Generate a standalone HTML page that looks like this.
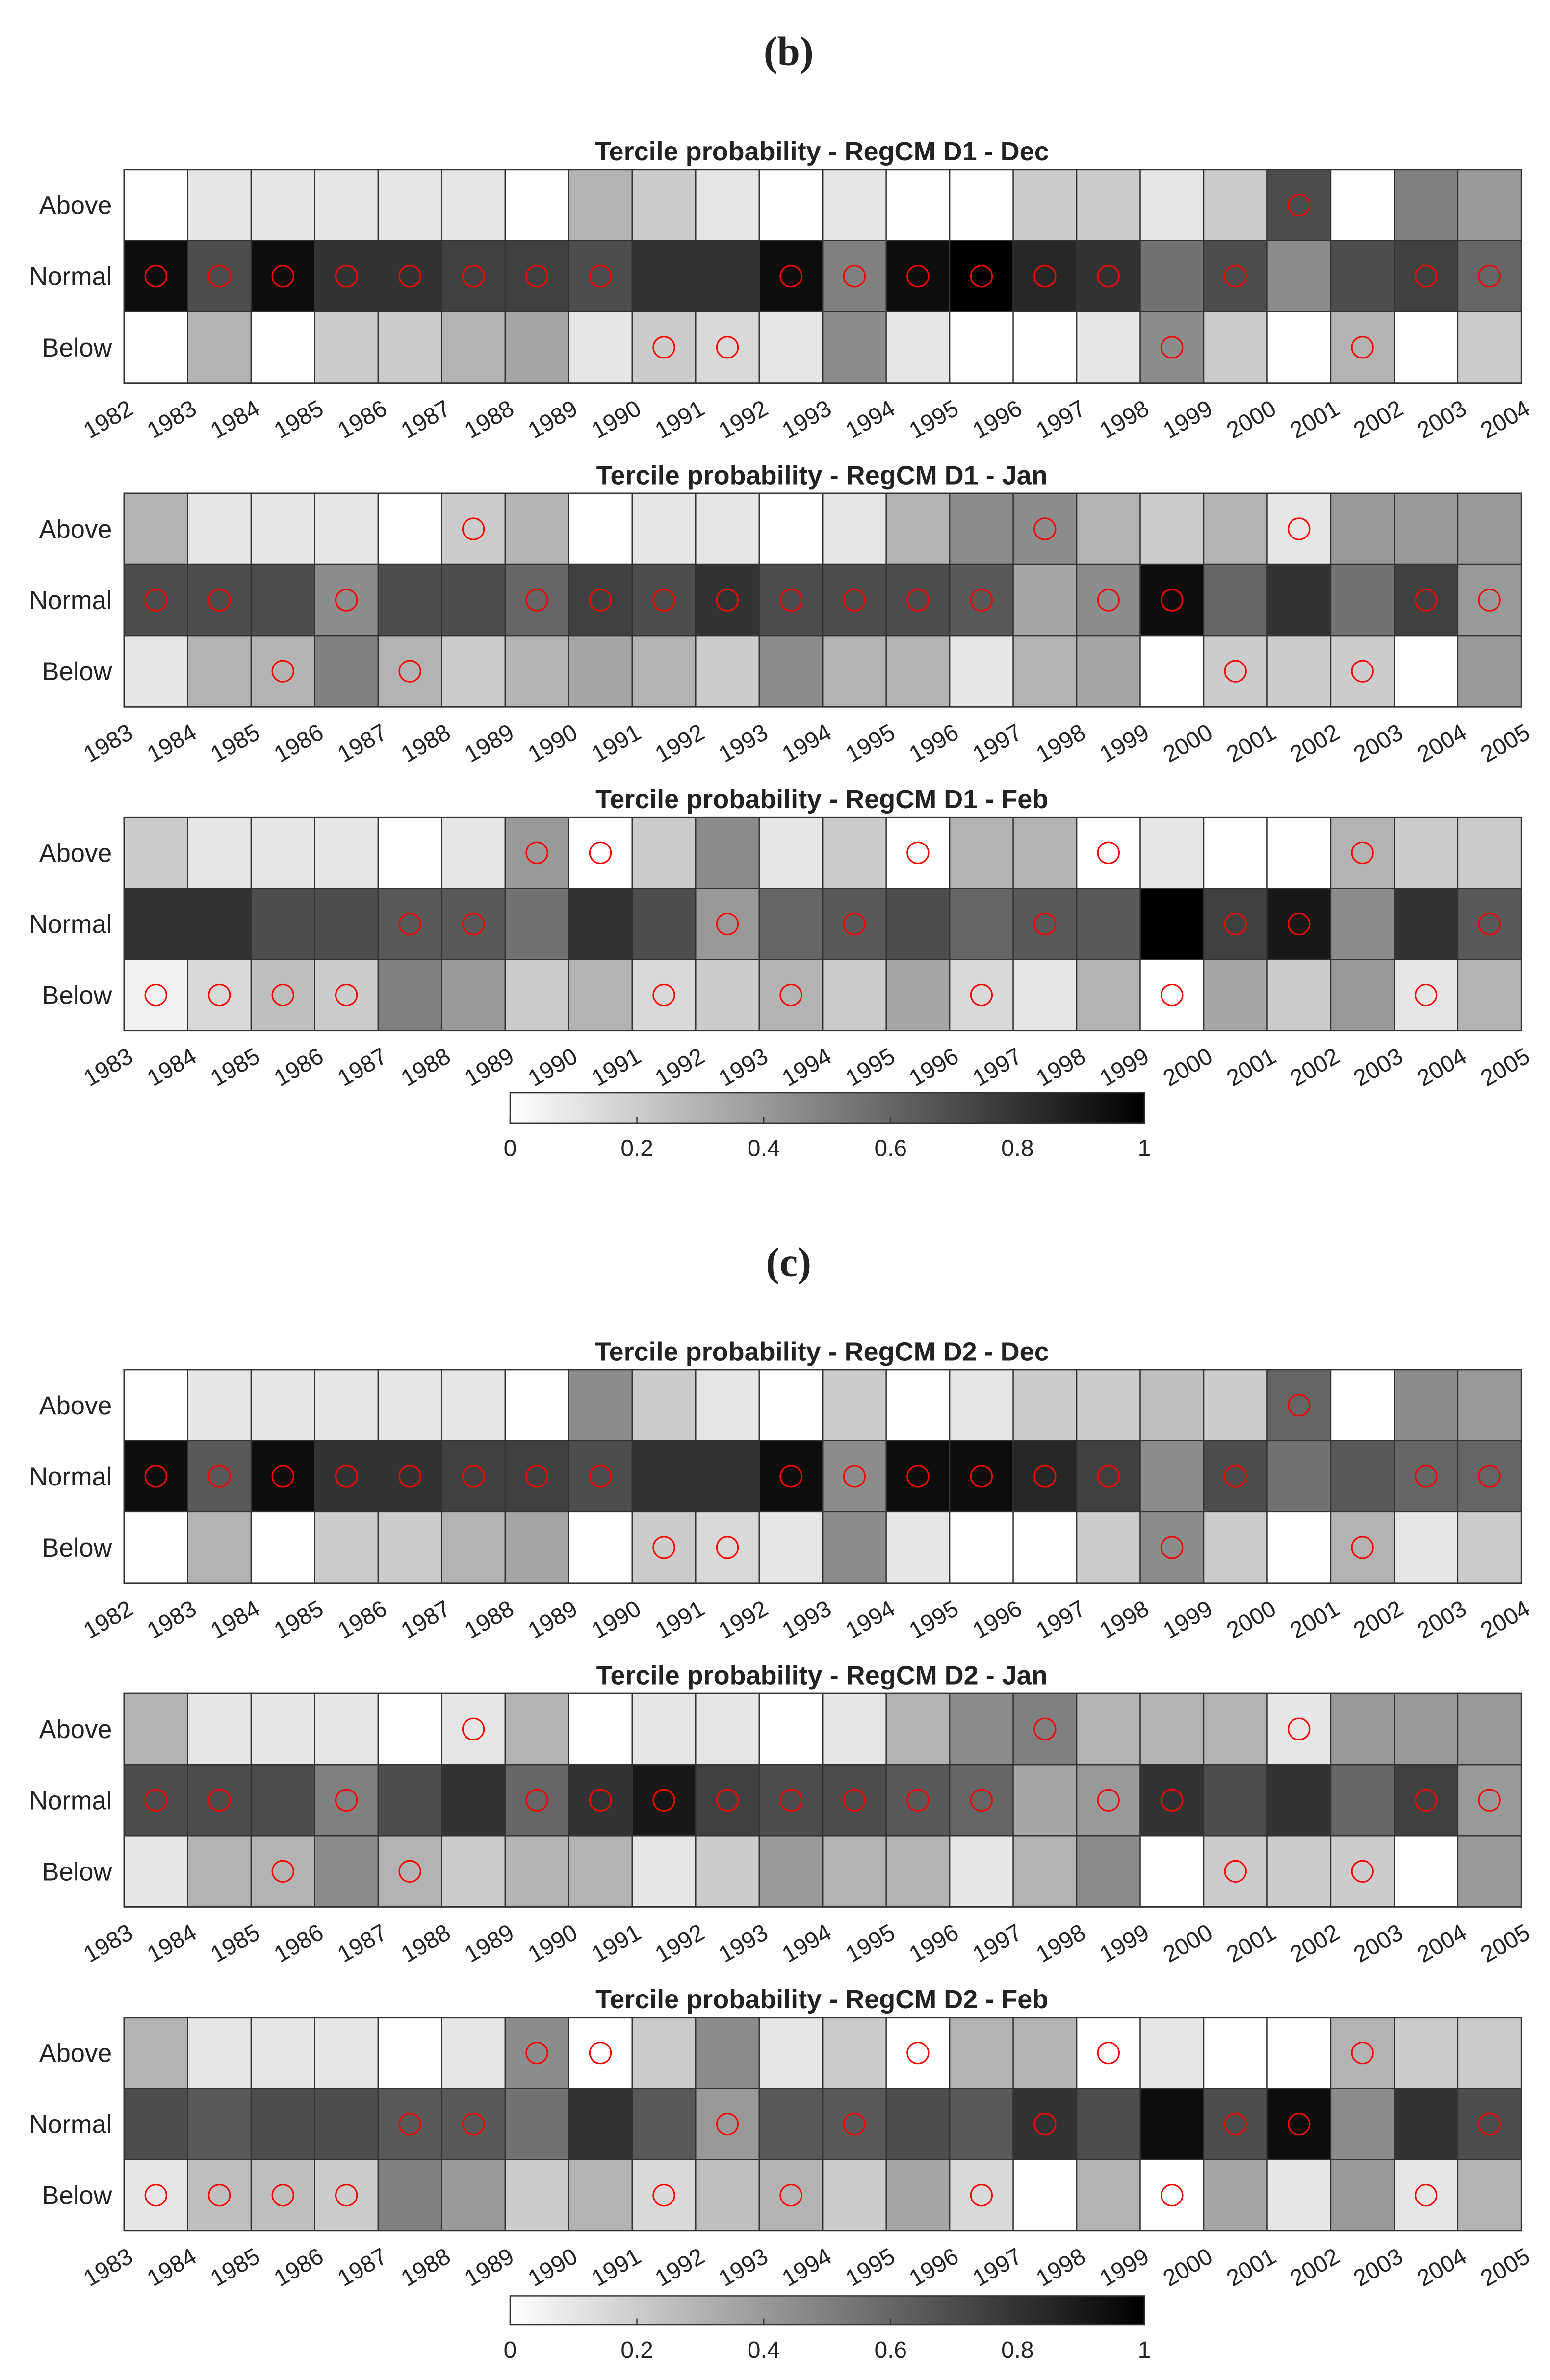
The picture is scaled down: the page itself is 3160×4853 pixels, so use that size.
<!DOCTYPE html>
<html><head><meta charset="utf-8"><style>
html,body{margin:0;padding:0;background:#fff;}
svg{display:block;}
text{font-family:"Liberation Sans","DejaVu Sans",sans-serif;fill:#222;}
</style></head><body>
<svg id="fig" width="3160" height="4853" viewBox="0 0 1024 1572.6" xmlns="http://www.w3.org/2000/svg">
<text x="521" y="43" text-anchor="middle" style="font-family:'Liberation Serif',serif;font-weight:bold;font-size:27px">(b)</text>
<text x="521" y="843" text-anchor="middle" style="font-family:'Liberation Serif',serif;font-weight:bold;font-size:27px">(c)</text>
</svg>
<script>
const rowNames = ["Above","Normal","Below"];
const titles = ["Tercile probability - RegCM D1 - Dec","Tercile probability - RegCM D1 - Jan","Tercile probability - RegCM D1 - Feb","Tercile probability - RegCM D2 - Dec","Tercile probability - RegCM D2 - Jan","Tercile probability - RegCM D2 - Feb"];
const startYears = [1982,1983,1983,1982,1983,1983];
const colorbarTicks = [0,0.2,0.4,0.6,0.8,1];
const colorbarTickLabels = ["0","0.2","0.4","0.6","0.8","1"];

const d1DecAbove=[0,0.1,0.1,0.1,0.1,0.1,0,0.3,0.2,0.1,0,0.1,0,0,0.2,0.2,0.1,0.2,0.7,0,0.5,0.4];
const d1DecNormal=[0.95,0.7,0.95,0.8,0.8,0.75,0.75,0.7,0.8,0.8,0.95,0.5,0.95,1,0.85,0.8,0.55,0.7,0.45,0.7,0.75,0.6];
const d1DecBelow=[0,0.3,0,0.2,0.2,0.3,0.35,0.1,0.2,0.15,0.1,0.45,0.1,0,0,0.1,0.45,0.2,0,0.3,0,0.2];
const d1DecObs=[1,1,1,1,1,1,1,1,2,2,1,1,1,1,1,1,2,1,0,2,1,1];

const d1JanAbove=[0.3,0.1,0.1,0.1,0,0.2,0.3,0,0.1,0.1,0,0.1,0.3,0.45,0.45,0.3,0.2,0.3,0.1,0.4,0.4,0.4];
const d1JanNormal=[0.7,0.7,0.7,0.45,0.7,0.7,0.6,0.75,0.7,0.8,0.7,0.7,0.7,0.65,0.35,0.45,0.95,0.6,0.8,0.55,0.75,0.4];
const d1JanBelow=[0.1,0.3,0.3,0.5,0.3,0.2,0.3,0.35,0.3,0.2,0.45,0.3,0.3,0.1,0.3,0.35,0,0.2,0.2,0.2,0,0.4];
const d1JanObs=[1,1,2,1,2,0,1,1,1,1,1,1,1,1,0,1,1,2,0,2,1,1];

const d1FebAbove=[0.2,0.1,0.1,0.1,0,0.1,0.4,0,0.2,0.45,0.1,0.2,0,0.3,0.3,0,0.1,0,0,0.3,0.2,0.2];
const d1FebNormal=[0.8,0.8,0.7,0.7,0.65,0.65,0.55,0.8,0.7,0.4,0.6,0.65,0.7,0.6,0.65,0.65,1,0.75,0.9,0.45,0.8,0.65];
const d1FebBelow=[0.05,0.15,0.25,0.2,0.5,0.4,0.2,0.3,0.15,0.2,0.3,0.2,0.35,0.15,0.1,0.3,0,0.35,0.2,0.4,0.1,0.3];
const d1FebObs=[2,2,2,2,1,1,0,0,2,1,2,1,0,2,1,0,2,1,1,0,2,1];

const d2DecAbove=[0,0.1,0.1,0.1,0.1,0.1,0,0.45,0.2,0.1,0,0.2,0,0.1,0.2,0.2,0.25,0.2,0.6,0,0.45,0.4];
const d2DecNormal=[0.95,0.65,0.95,0.8,0.8,0.75,0.75,0.7,0.8,0.8,0.95,0.45,0.95,0.95,0.85,0.75,0.45,0.7,0.55,0.65,0.6,0.6];
const d2DecBelow=[0,0.3,0,0.2,0.2,0.3,0.35,0,0.2,0.15,0.1,0.45,0.1,0,0,0.2,0.45,0.2,0,0.3,0.1,0.2];
const d2DecObs=[1,1,1,1,1,1,1,1,2,2,1,1,1,1,1,1,2,1,0,2,1,1];

const d2JanAbove=[0.3,0.1,0.1,0.1,0,0.1,0.3,0,0.1,0.1,0,0.1,0.3,0.45,0.5,0.3,0.3,0.3,0.1,0.4,0.4,0.4];
const d2JanNormal=[0.7,0.7,0.7,0.5,0.7,0.8,0.6,0.8,0.9,0.75,0.7,0.7,0.65,0.6,0.35,0.4,0.8,0.7,0.8,0.6,0.75,0.4];
const d2JanBelow=[0.1,0.3,0.3,0.45,0.3,0.2,0.3,0.3,0.1,0.2,0.4,0.3,0.3,0.1,0.3,0.45,0,0.2,0.2,0.2,0,0.4];
const d2JanObs=[1,1,2,1,2,0,1,1,1,1,1,1,1,1,0,1,1,2,0,2,1,1];

const d2FebAbove=[0.3,0.1,0.1,0.1,0,0.1,0.45,0,0.2,0.45,0.1,0.2,0,0.3,0.3,0,0.1,0,0,0.3,0.2,0.2];
const d2FebNormal=[0.7,0.65,0.7,0.7,0.65,0.65,0.55,0.8,0.65,0.4,0.65,0.65,0.7,0.65,0.8,0.7,0.95,0.7,0.95,0.45,0.8,0.7];
const d2FebBelow=[0.1,0.25,0.25,0.2,0.5,0.4,0.2,0.3,0.15,0.25,0.3,0.2,0.35,0.15,0,0.3,0,0.35,0.1,0.4,0.1,0.3];
const d2FebObs=[2,2,2,2,1,1,0,0,2,1,2,1,0,2,1,0,2,1,1,0,2,1];

const panels=[
 [d1DecAbove,d1DecNormal,d1DecBelow,d1DecObs],
 [d1JanAbove,d1JanNormal,d1JanBelow,d1JanObs],
 [d1FebAbove,d1FebNormal,d1FebBelow,d1FebObs],
 [d2DecAbove,d2DecNormal,d2DecBelow,d2DecObs],
 [d2JanAbove,d2JanNormal,d2JanBelow,d2JanObs],
 [d2FebAbove,d2FebNormal,d2FebBelow,d2FebObs]
];
const NS="http://www.w3.org/2000/svg";
const svg=document.getElementById('fig');
function mk(tag,attrs,parent){const e=document.createElementNS(NS,tag);for(const k in attrs)e.setAttribute(k,attrs[k]);(parent||svg).appendChild(e);return e;}
function gray(v){const g=Math.round(255*(1-Math.max(0,Math.min(1,v))));return `rgb(${g},${g},${g})`;}
const X0=82,X1=1005,RH=47;
const tops=[112,326,540,905,1119,1333];
panels.forEach((p,pi)=>{
  const n=p[0].length, cw=(X1-X0)/n, top=tops[pi];
  const xs=i=>X0+i*cw, ys=r=>top+r*RH;
  const g=mk('g',{});
  
  
  const t=mk('text',{x:543,y:top-6,'text-anchor':'middle','font-size':17.5,'font-weight':'bold'},g);
  t.textContent=titles[pi];
  
  
  for(let r=0;r<3;r++){
    const lbl=mk('text',{x:74,y:ys(r)+RH/2+6,'text-anchor':'end','font-size':17},g);
    lbl.textContent=rowNames[r];
    
    
    for(let i=0;i<n;i++){
      const c=mk('rect',{x:xs(i),y:ys(r),width:cw,height:RH,fill:gray(p[r][i]),stroke:'#333','stroke-width':0.8},g);
      
      
    }
  }
  for(let i=0;i<n;i++){
    const r=p[3][i];
    const o=mk('ellipse',{cx:xs(i)+cw/2,cy:ys(r)+RH/2,rx:7,ry:7,fill:'none',stroke:'#f00','stroke-width':1},g);
    
    
  }
  const fr=mk('rect',{x:X0,y:top,width:X1-X0,height:3*RH,fill:'none',stroke:'#333','stroke-width':1},g);
  
  
  for(let i=0;i<=n;i++){
    const yr=mk('text',{'text-anchor':'end','font-size':15.5,transform:`translate(${xs(i)+7},${top+3*RH+20}) rotate(-30)`},g);
    yr.textContent=String(startYears[pi]+i);
    
    
  }
});
const defs=mk('defs',{});
const lg=mk('linearGradient',{id:'cb',x1:0,x2:1,y1:0,y2:0},defs);
mk('stop',{offset:0,'stop-color':'#fff'},lg);mk('stop',{offset:1,'stop-color':'#000'},lg);
[[722,20],[1517,19]].forEach(([y,h],ci)=>{
  const cx0=337,cw=419;
  const g=mk('g',{});
  
  
  mk('rect',{x:cx0,y:y,width:cw,height:h,fill:'url(#cb)',stroke:'#333','stroke-width':0.8},g);
  colorbarTicks.forEach((v,k)=>{
    const x=cx0+v*cw;
    mk('line',{x1:x,x2:x,y1:y+h,y2:y+h-4,stroke:'#333','stroke-width':0.8},g);
    const tl=mk('text',{x:x,y:y+h+22,'text-anchor':'middle','font-size':15.5},g);
    tl.textContent=colorbarTickLabels[k];
    
    
  });
});
</script>
</body></html>
